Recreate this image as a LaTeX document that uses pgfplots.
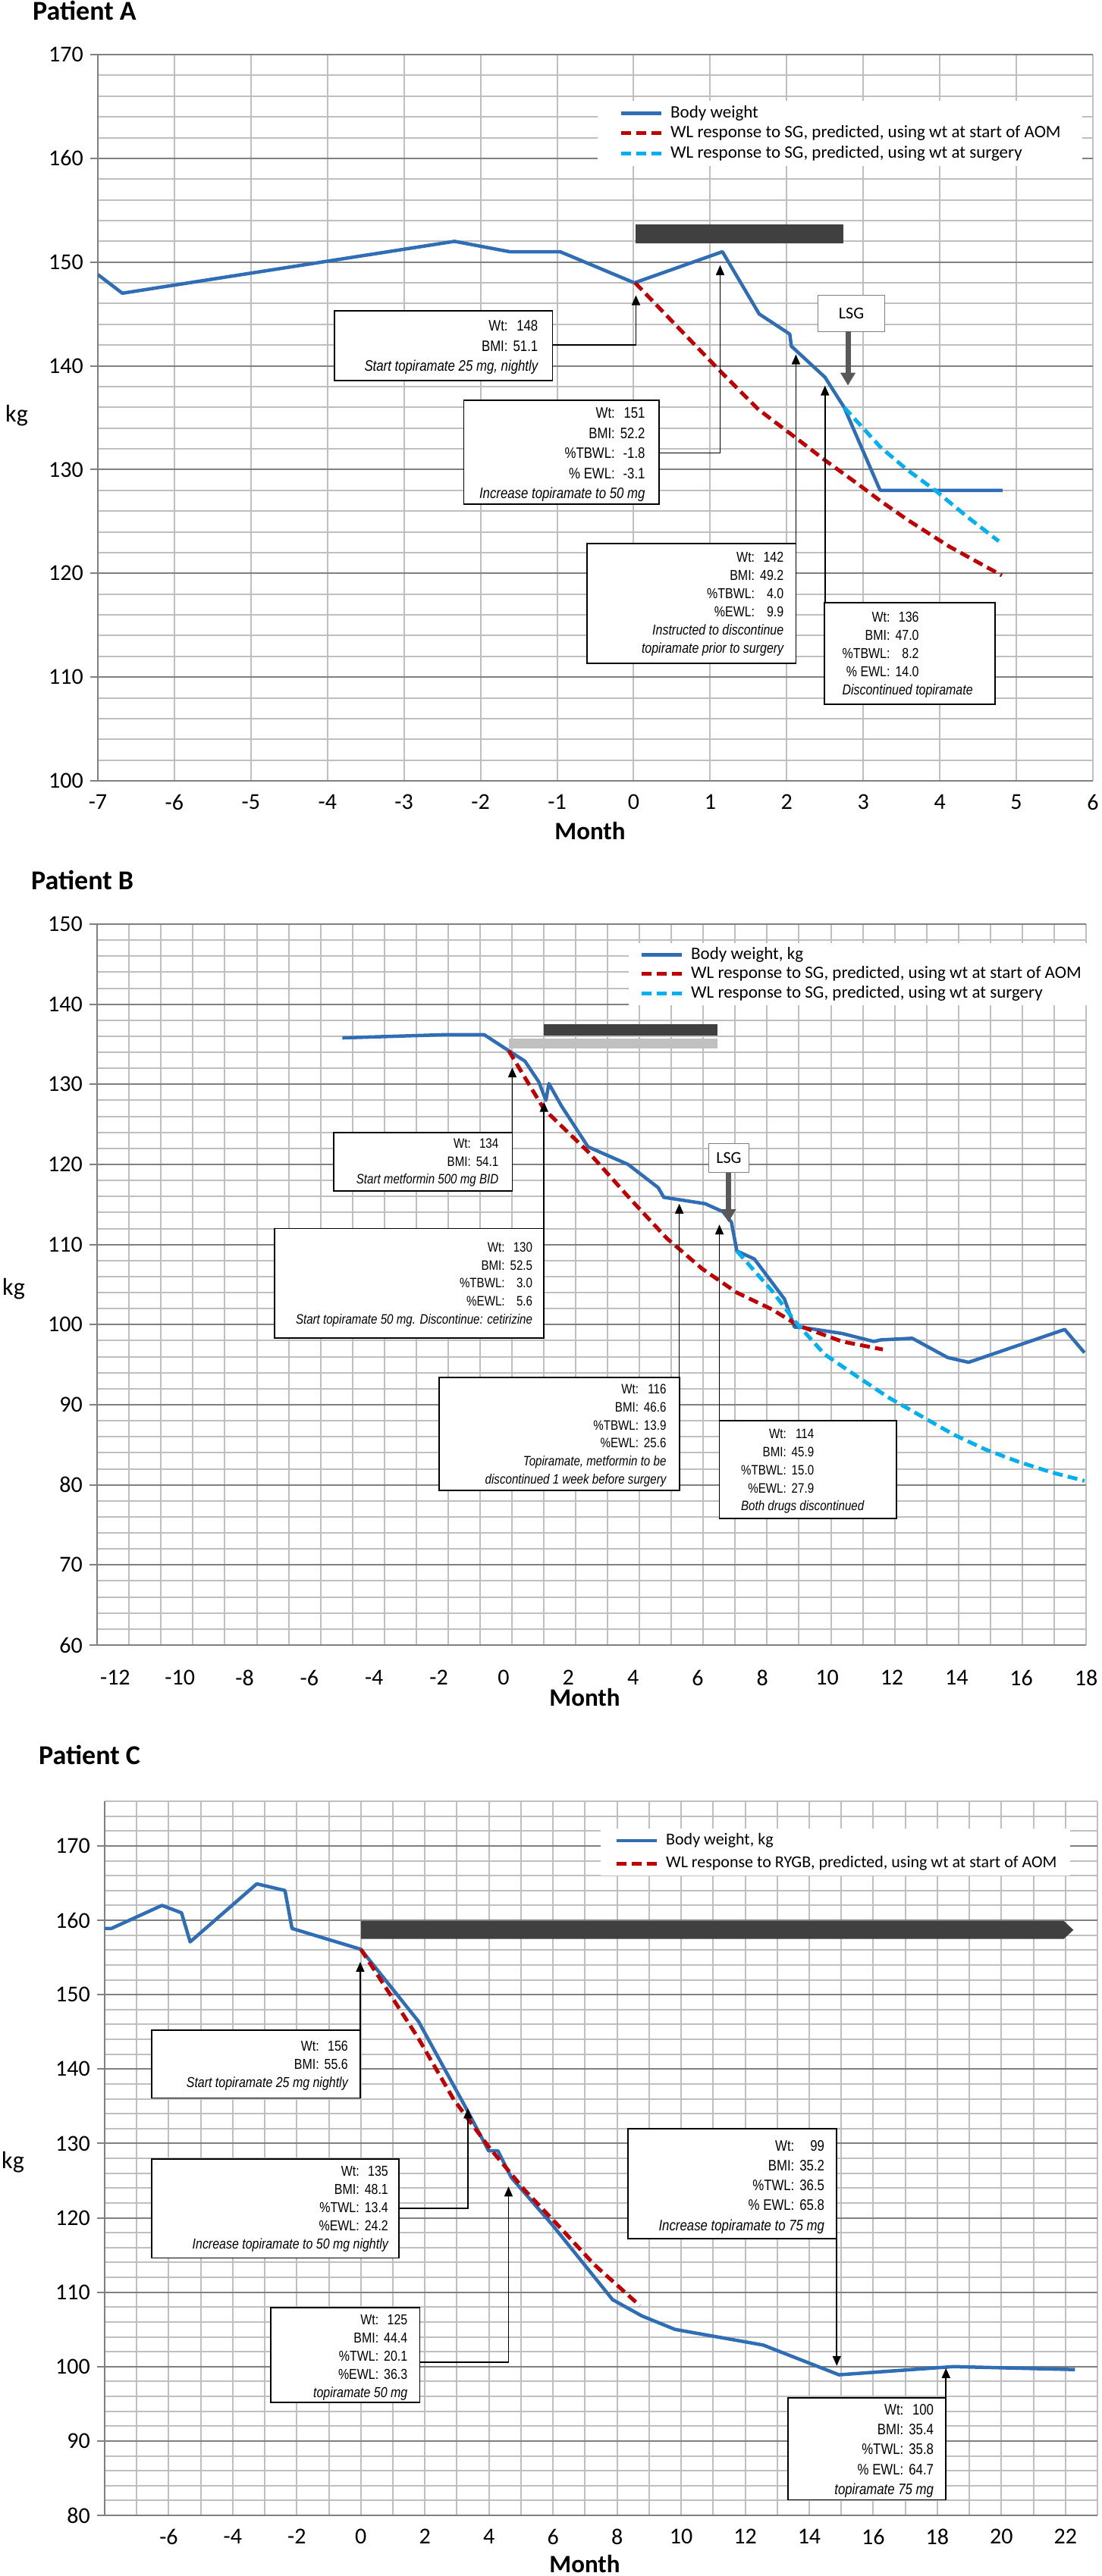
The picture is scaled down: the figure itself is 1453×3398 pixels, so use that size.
\documentclass[border=0pt]{standalone}
\usepackage{fontspec}
\setmainfont{Carlito}
\newfontfamily\annfont[FakeStretch=0.84]{Liberation Sans}
\usepackage{pgfplots}
\pgfplotsset{compat=1.18}
\usetikzlibrary{arrows.meta}

\definecolor{bw}{HTML}{2F6DB5}
\definecolor{predred}{HTML}{C00000}
\definecolor{predcyan}{HTML}{00B0F0}
\definecolor{majgrid}{HTML}{808080}
\definecolor{mingrid}{HTML}{BFBFBF}
\definecolor{barblack}{HTML}{404040}
\definecolor{bargray}{HTML}{C0C0C0}
\definecolor{lsggray}{HTML}{595959}

\newcommand{\itl}[1]{\multicolumn{2}{@{}r@{}}{\makebox[0pt][r]{\itshape #1}}}
\newcommand{\itlL}[1]{\multicolumn{2}{@{}l@{}}{\makebox[0pt][l]{\itshape #1}}}
\newcommand{\annbox}[8]{%
  \draw[black, line width=1.8pt, fill=white] (axis cs:#1,#2) rectangle (axis cs:#3,#4);
  \node[#7, anchor=north east, inner sep=0pt, xshift=-#5pt, yshift=-#6pt] at (axis cs:#3,#2)
     {\begin{tabular}{@{}r@{\hspace{7pt}}r@{}}#8\end{tabular}};}

\tikzset{
  conn/.style={black, line width=1.6pt, -{Triangle[width=11pt,length=13pt]}},
  lsgarrow/.style={draw=lsggray, line width=7pt, -{Triangle[width=19pt,length=17pt]}},
  lsgbox/.style={draw=majgrid, line width=1.5pt, fill=white},
  annAa/.style={font=\annfont\fontsize{20}{26.5}\selectfont},
  annAb/.style={font=\annfont\fontsize{19}{24}\selectfont},
  annB/.style={font=\annfont\fontsize{18}{23.7}\selectfont},
  annCa/.style={font=\annfont\fontsize{20}{26.3}\selectfont},
  annCb/.style={font=\annfont\fontsize{19}{24}\selectfont},
  bwline/.style={bw, line width=4.5pt, line join=round},
  redd/.style={predred, line width=5pt, dash pattern=on 13pt off 7pt},
  cyand/.style={predcyan, line width=5pt, dash pattern=on 13pt off 7pt},
}

\pgfplotsset{
  legend image code/.code={\draw[#1] (0pt,0pt) -- (53pt,0pt); \path (63pt,0pt);},
  panel/.style={
    scale only axis, anchor=south west,
    axis x line=bottom, axis y line=left,
    axis line style={-, draw=majgrid, line width=2pt},
    tick align=outside, major tick length=10pt, minor tick length=0pt,
    xtick style={draw=none}, ytick style={draw=majgrid, line width=2pt},
    ymajorgrids, yminorgrids, xmajorgrids=false, xminorgrids,
    major grid style={majgrid, line width=2pt},
    minor grid style={mingrid, line width=2pt},
    tick label style={font=\fontsize{30}{36}\selectfont, inner sep=0pt},
    yticklabel style={xshift=-9pt},
    xticklabel style={yshift=-8pt},
    legend cell align=left,
  },
}

\begin{document}
\begin{tikzpicture}[x=1pt,y=1pt]
\path[use as bounding box] (0,0) rectangle (1453,-3398);

% ---------------- Patient A ----------------
\begin{axis}[panel, at={(129pt,-1030pt)}, width=1312pt, height=958pt,
  xmin=-7, xmax=6, ymin=100, ymax=170,
  xtick={-7,...,6}, xticklabels={-7,-6,-5,-4,-3,-2,-1,0,1,2,3,4,5,6},
  minor xtick={-7,...,6},
  ytick={100,110,...,170}, yticklabels={100,110,120,130,140,150,160,170},
  minor ytick={102,104,106,108,112,114,116,118,122,124,126,128,132,134,136,138,142,144,146,148,152,154,156,158,162,164,166,168},
  legend style={at={(0.5023,0.9363)}, anchor=north west, draw=none, fill=white,
    inner xsep=28pt, inner ysep=6pt, row sep=6pt, font=\fontsize{23}{27}\selectfont,
    nodes={inner sep=0pt, text height=16pt, text depth=4.5pt}},
]
\addplot[forget plot, fill=barblack, draw=none] coordinates {(0.03,151.8) (2.74,151.8) (2.74,153.6) (0.03,153.6)};
\addplot[bwline] coordinates {(-7,148.8) (-6.68,147) (-2.34,152) (-1.62,151) (-0.96,151) (0.01,148) (1.16,151) (1.64,145) (2.04,143.06) (2.06,141.9) (2.50,138.9) (2.75,136.0) (3.22,128) (4.82,128)};
\addlegendentry{Body weight}
\addplot[redd] coordinates {(0.02,148) (0.58,143.7) (1.17,139.2) (1.63,135.8) (2.13,133.0) (2.50,130.9) (2.95,128.5) (3.22,127.0) (3.57,125.2) (4.12,122.6) (4.81,119.8)};
\addlegendentry{WL response to SG, predicted, using wt at start of AOM}
\addplot[cyand] coordinates {(2.75,136.0) (3.22,132.2) (3.57,130.0) (3.94,128.0) (4.35,125.5) (4.77,123.1)};
\addlegendentry{WL response to SG, predicted, using wt at surgery}

\annbox{-3.91}{145.3}{-1.06}{138.6}{19}{8}{annAa}{Wt: & 148\\ BMI: & 51.1\\ \itl{Start topiramate 25 mg, nightly}}
\draw[conn] (axis cs:-1.06,142.0) -- (axis cs:0.03,142.0) -- (axis cs:0.03,146.8);
\annbox{-2.22}{136.7}{0.33}{126.7}{18}{5}{annAa}{Wt: & 151\\ BMI: & 52.2\\ \%TBWL: & -1.8\\ \% EWL: & -3.1\\ \itl{Increase topiramate to 50 mg}}
\draw[conn] (axis cs:0.33,131.6) -- (axis cs:1.13,131.6) -- (axis cs:1.13,149.7);
\annbox{-0.61}{122.9}{2.12}{111.3}{16}{8}{annAb}{Wt: & 142\\ BMI: & 49.2\\ \%TBWL: & 4.0\\ \%EWL: & 9.9\\ \itl{Instructed to discontinue}\\ \itl{topiramate prior to surgery}}
\draw[conn] (axis cs:2.12,122.9) -- (axis cs:2.12,141.1);
\annbox{2.49}{117.2}{4.72}{107.4}{100}{9}{annAb}{Wt: & 136\\ BMI: & 47.0\\ \%TBWL: & 8.2\\ \% EWL: & 14.0\\ \itlL{Discontinued topiramate}}
\draw[conn] (axis cs:2.50,117.2) -- (axis cs:2.50,138.1);

\draw[lsgbox] (axis cs:2.41,146.8) rectangle (axis cs:3.28,143.3);
\node[font=\fontsize{22}{26}\selectfont] at (axis cs:2.845,145.05) {LSG};
\draw[lsgarrow] (axis cs:2.80,143.3) -- (axis cs:2.80,138.1);
\end{axis}

% ---------------- Patient B ----------------
\begin{axis}[panel, at={(128pt,-2170pt)}, width=1304pt, height=951pt,
  xmin=-12.56, xmax=18, ymin=60, ymax=150,
  xtick={-12,-10,...,18}, xticklabels={-12,-10,-8,-6,-4,-2,0,2,4,6,8,10,12,14,16,18},
  minor xtick={18,17.0144,16.0288,15.0432,14.0576,13.072,12.0864,11.1008,10.1152,9.1296,8.144,7.1584,6.1728,5.1872,4.2016,3.216,2.2304,1.2448,0.2592,-0.7264,-1.712,-2.6976,-3.6832,-4.6688,-5.6544,-6.64,-7.6256,-8.6112,-9.5968,-10.5824,-11.568,-12.5536},
  ytick={60,70,...,150}, yticklabels={60,70,80,90,100,110,120,130,140,150},
  minor ytick={62,64,66,68,72,74,76,78,82,84,86,88,92,94,96,98,102,104,106,108,112,114,116,118,122,124,126,128,132,134,136,138,142,144,146,148},
  xticklabel style={yshift=-15pt},
  legend style={at={(0.5376,0.9737)}, anchor=north west, draw=none, fill=white,
    inner xsep=14pt, inner ysep=5pt, row sep=5pt, font=\fontsize{23}{27}\selectfont,
    nodes={inner sep=0pt, text height=16pt, text depth=4.5pt}},
]
\addplot[forget plot, fill=barblack, draw=none] coordinates {(1.25,136.1) (6.61,136.1) (6.61,137.5) (1.25,137.5)};
\addplot[forget plot, fill=bargray, draw=none] coordinates {(0.16,134.5) (6.61,134.5) (6.61,135.7) (0.16,135.7)};
\addplot[bwline] coordinates {(-4.98,135.8) (-1.79,136.2) (-0.60,136.2) (0.16,134.2) (0.66,132.9) (1.09,130.3) (1.31,128) (1.40,130.1) (1.79,127.3) (2.61,122.2) (3.85,120) (4.78,117.1) (4.95,115.9) (6.23,115.1) (6.78,114.1) (7.04,112.8) (7.21,109.2) (7.75,108.2) (8.68,103.2) (8.99,99.7) (9.16,99.7) (10.46,98.9) (11.44,97.9) (11.66,98.1) (12.63,98.3) (13.72,95.9) (14.37,95.3) (17.34,99.4) (17.95,96.5)};
\addlegendentry{Body weight, kg}
\addplot[redd] coordinates {(0.16,134.2) (1.25,126.9) (2.61,121.6) (3.96,115.5) (5.04,110.8) (6.13,107.0) (7.21,104.0) (8.30,101.9) (9.10,99.9) (10.46,97.9) (11.72,96.9)};
\addlegendentry{WL response to SG, predicted, using wt at start of AOM}
\addplot[cyand] coordinates {(7.21,109.2) (8.30,104.2) (9.05,100.2) (9.92,96.3) (10.9,93.6) (11.9,90.9) (12.9,88.6) (13.9,86.3) (14.9,84.4) (15.9,82.9) (16.9,81.6) (17.95,80.5)};
\addlegendentry{WL response to SG, predicted, using wt at surgery}

\annbox{-5.24}{124}{0.27}{116.7}{18}{4}{annB}{Wt: & 134\\ BMI: & 54.1\\ \itl{Start metformin 500 mg BID}}
\draw[conn] (axis cs:0.27,116.7) -- (axis cs:0.27,132.1);
\annbox{-7.07}{112}{1.25}{98.3}{15}{14}{annB}{Wt: & 130\\ BMI: & 52.5\\ \%TBWL: & 3.0\\ \%EWL: & 5.6\\ \itl{Start topiramate 50 mg. Discontinue: cetirizine}}
\draw[conn] (axis cs:1.25,112) -- (axis cs:1.25,127.8);
\annbox{-1.99}{93.4}{5.43}{79.3}{17}{5}{annB}{Wt: & 116\\ BMI: & 46.6\\ \%TBWL: & 13.9\\ \%EWL: & 25.6\\ \itl{Topiramate, metformin to be}\\ \itl{discontinued 1 week before surgery}}
\draw[conn] (axis cs:5.43,93.4) -- (axis cs:5.43,115.1);
\annbox{6.67}{88}{12.15}{75.8}{109}{7}{annB}{Wt: & 114\\ BMI: & 45.9\\ \%TBWL: & 15.0\\ \%EWL: & 27.9\\ \itlL{Both drugs discontinued}}
\draw[conn] (axis cs:6.67,88) -- (axis cs:6.67,112.5);

\draw[lsgbox] (axis cs:6.34,122.6) rectangle (axis cs:7.58,119.0);
\node[font=\fontsize{22}{26}\selectfont] at (axis cs:6.96,120.8) {LSG};
\draw[lsgarrow] (axis cs:6.95,119.0) -- (axis cs:6.95,112.8);
\end{axis}

% ---------------- Patient C ----------------
\begin{axis}[panel, at={(138pt,-3318pt)}, width=1309pt, height=942pt,
  xmin=-8, xmax=23, ymin=80, ymax=176,
  xtick={-6,-4,...,22}, xticklabels={-6,-4,-2,0,2,4,6,8,10,12,14,16,18,20,22},
  minor xtick={-8,...,23},
  ytick={80,90,...,170}, yticklabels={80,90,100,110,120,130,140,150,160,170},
  minor ytick={82,84,86,88,92,94,96,98,102,104,106,108,112,114,116,118,122,124,126,128,132,134,136,138,142,144,146,148,152,154,156,158,162,164,166,168,172,174,176},
  legend style={at={(0.4996,0.9618)}, anchor=north west, draw=none, fill=white,
    inner xsep=18pt, inner ysep=6pt, row sep=10pt, font=\fontsize{22}{26}\selectfont,
    nodes={inner sep=0pt, text height=15.5pt, text depth=4.5pt}},
]
\addplot[forget plot, fill=barblack, draw=none] coordinates {(0,157.5) (21.95,157.5) (22.25,158.7) (21.95,159.9) (0,159.9)};
\addplot[bwline] coordinates {(-8,158.9) (-7.79,158.9) (-6.21,162.0) (-5.60,161.0) (-5.33,157.1) (-3.25,164.9) (-2.37,164.0) (-2.15,158.9) (0,156.1) (1.80,146.4) (3.29,134.7) (3.99,129.0) (4.28,129.0) (4.70,125.4) (5.97,119.1) (7.86,109.0) (8.78,106.8) (9.81,105.0) (12.56,102.9) (14.93,98.9) (18.5,100.0) (22.3,99.6)};
\addlegendentry{Body weight, kg}
\addplot[redd] coordinates {(0,156.1) (0.92,150) (1.80,144.1) (2.90,135.9) (4.0,129.5) (5.10,123.8) (6.20,118.8) (7.29,113.7) (8.71,108.2)};
\addlegendentry{WL response to RYGB, predicted, using wt at start of AOM}

\annbox{-6.54}{145.2}{-0.02}{136.1}{16}{10}{annCb}{Wt: & 156\\ BMI: & 55.6\\ \itl{Start topiramate 25 mg nightly}}
\draw[conn] (axis cs:-0.02,145.2) -- (axis cs:-0.02,154.4);
\annbox{-6.54}{127.9}{1.19}{114.6}{14}{5.5}{annCb}{Wt: & 135\\ BMI: & 48.1\\ \%TWL: & 13.4\\ \%EWL: & 24.2\\ \itl{Increase topiramate to 50 mg nightly}}
\draw[conn] (axis cs:1.19,121.3) -- (axis cs:3.34,121.3) -- (axis cs:3.34,134.7);
\annbox{-2.81}{107.9}{1.84}{95.2}{16}{5.4}{annCb}{Wt: & 125\\ BMI: & 44.4\\ \%TWL: & 20.1\\ \%EWL: & 36.3\\ \itl{topiramate 50 mg}}
\draw[conn] (axis cs:1.84,100.6) -- (axis cs:4.61,100.6) -- (axis cs:4.61,124.2);
\annbox{8.34}{132.0}{14.86}{117.2}{16}{10.7}{annCa}{Wt: & 99\\ BMI: & 35.2\\ \%TWL: & 36.5\\ \% EWL: & 65.8\\ \itl{Increase topiramate to 75 mg}}
\draw[conn] (axis cs:14.86,117.2) -- (axis cs:14.86,100.1);
\annbox{13.33}{95.8}{18.27}{82.1}{16}{3.7}{annCa}{Wt: & 100\\ BMI: & 35.4\\ \%TWL: & 35.8\\ \% EWL: & 64.7\\ \itl{topiramate 75 mg}}
\draw[conn] (axis cs:18.27,95.8) -- (axis cs:18.27,99.8);
\end{axis}

% ---------------- titles and axis labels ----------------
\node[anchor=base west, inner sep=0pt, font=\fontsize{36}{40}\selectfont\bfseries] at (43,-26) {Patient A};
\node[anchor=base west, inner sep=0pt, font=\fontsize{36}{40}\selectfont\bfseries] at (41,-1173) {Patient B};
\node[anchor=base west, inner sep=0pt, font=\fontsize{36}{40}\selectfont\bfseries] at (51,-2327) {Patient C};
\node[anchor=base, inner sep=0pt, font=\fontsize{33}{38}\selectfont\bfseries] at (778,-1107) {Month};
\node[anchor=base, inner sep=0pt, font=\fontsize{33}{38}\selectfont\bfseries] at (771,-2250) {Month};
\node[anchor=base, inner sep=0pt, font=\fontsize{33}{38}\selectfont\bfseries] at (771,-3393) {Month};
\node[inner sep=0pt, font=\fontsize{32}{36}\selectfont] at (22,-548) {kg};
\node[inner sep=0pt, font=\fontsize{32}{36}\selectfont] at (18,-1700) {kg};
\node[inner sep=0pt, font=\fontsize{32}{36}\selectfont] at (17,-2852) {kg};
\end{tikzpicture}
\end{document}
